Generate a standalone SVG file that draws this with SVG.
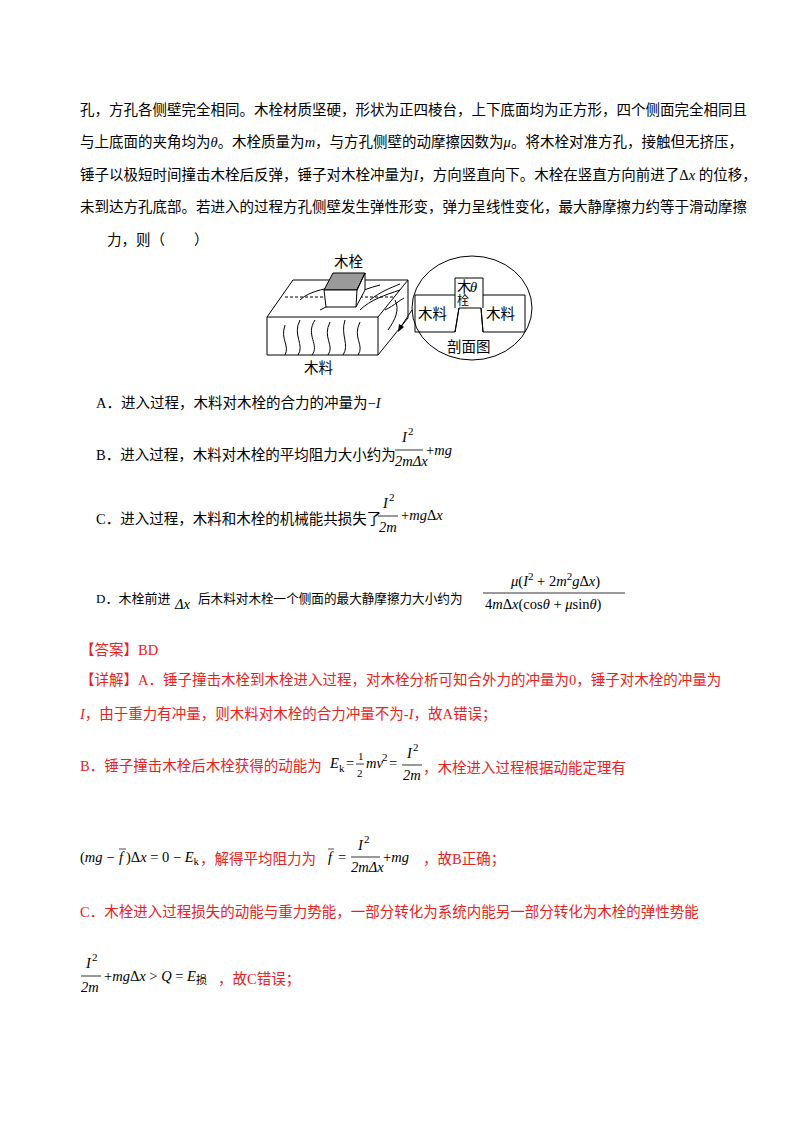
<svg xmlns="http://www.w3.org/2000/svg" width="800" height="1132" viewBox="0 0 800 1132">
<style>
text{font-family:"Liberation Serif","Noto Sans CJK SC",serif;font-size:14.5px;fill:#000}
.r{fill:#e8231e}
.i{font-style:italic}
.s{font-size:11px}
.ln{fill:none;stroke:#000;stroke-width:1}
</style>
<rect width="800" height="1132" fill="#fff"/>
<text x="80" y="115">孔，方孔各侧壁完全相同。木栓材质坚硬，形状为正四棱台，上下底面均为正方形，四个侧面完全相同且</text>
<text x="80" y="147">与上底面的夹角均为<tspan class="i">θ</tspan>。木栓质量为<tspan class="i">m</tspan>，与方孔侧壁的动摩擦因数为<tspan class="i">μ</tspan>。将木栓对准方孔，接触但无挤压，</text>
<text x="80" y="180">锤子以极短时间撞击木栓后反弹，锤子对木栓冲量为<tspan class="i">I</tspan>，方向竖直向下。木栓在竖直方向前进了Δ<tspan class="i">x</tspan> 的位移，</text>
<text x="80" y="212">未到达方孔底部。若进入的过程方孔侧壁发生弹性形变，弹力呈线性变化，最大静摩擦力约等于滑动摩擦</text>
<text x="107" y="245">力，则（　　）</text>
<g id="figure">
<path class="ln" d="M267 317H378V355H267Z M267 317L293 280H408L378 317 M408 280V318L378 355"/>
<path class="ln" d="M285 297H395" stroke-dasharray="3 2"/>
<path class="ln" d="M285 325C280 340 290 345 285 355 M300 320C292 335 305 345 298 355 M315 320C305 335 320 345 312 355 M330 322C322 338 335 345 328 355 M345 320C340 335 350 345 343 355 M360 322C352 338 365 345 358 355 M300 300C310 290 330 288 345 285 M320 310C340 300 360 290 380 285 M360 310C370 300 385 295 400 290 M385 310C395 305 400 300 404 298 M388 330C395 320 400 310 395 300 M370 300C380 292 390 288 400 284"/>
<path d="M324 290L333 273H365L357 290Z" fill="#9a9a9a" stroke="#000"/>
<path d="M324 290H357L365 273V290L356 307H326Z" fill="#fff" stroke="#000"/>
<path class="ln" d="M357 290L356 307 M357 290L365 273"/>
<text x="334" y="267">木栓</text>
<text x="304" y="373">木料</text>
<ellipse cx="472" cy="308" rx="60" ry="52" class="ln"/>
<path class="ln" d="M415 295H455V278H483V295H525V332H483L481 308H459L455 332H415Z M459 308L455 332 M481 308L483 332 M455 295V308 M483 295V308"/>
<text x="418" y="319">木料</text>
<text x="486" y="319">木料</text>
<text x="457" y="292">木</text>
<text x="457" y="305" style="font-size:12px">栓</text>
<text x="470" y="292" class="i">θ</text>
<text x="447" y="352">剖面图</text>
<path class="ln" d="M412 310L400 328"/>
<path d="M398 332L399 324L404 327Z" fill="#000"/>
</g>
<text x="96" y="408">A．进入过程，木料对木栓的合力的冲量为−<tspan class="i">I</tspan></text>
<text x="96" y="460">B．进入过程，木料对木栓的平均阻力大小约为</text>
<g id="fB"><text x="402" y="442" class="i">I</text><text x="408" y="435" class="s">2</text><line x1="395" y1="450" x2="423" y2="450" stroke="#000" stroke-width="0.8"/><text x="395" y="466" class="i">2mΔx</text><text x="426" y="455">+<tspan class="i">mg</tspan></text></g>
<text x="96" y="524">C．进入过程，木料和木栓的机械能共损失了</text>
<g id="fC"><text x="383" y="508" class="i">I</text><text x="389" y="501" class="s">2</text><line x1="378" y1="516" x2="398" y2="516" stroke="#000" stroke-width="0.8"/><text x="379" y="532" class="i">2m</text><text x="401" y="520">+<tspan class="i">mg</tspan>Δ<tspan class="i">x</tspan></text></g>
<text x="96" y="603" style="font-size:13px">D．木栓前进</text><text x="175" y="609" class="i">Δx</text><text x="198" y="603" style="font-size:12.6px">后木料对木栓一个侧面的最大静摩擦力大小约为</text>
<g id="fD"><text x="511" y="586"><tspan class="i">μ</tspan>(<tspan class="i">I</tspan><tspan class="s" dy="-6">2</tspan><tspan dy="6"> + 2</tspan><tspan class="i">m</tspan><tspan class="s" dy="-6">2</tspan><tspan dy="6" class="i">g</tspan>Δ<tspan class="i">x</tspan>)</text><line x1="483" y1="593" x2="625" y2="593" stroke="#000" stroke-width="0.8"/><text x="485" y="609">4<tspan class="i">m</tspan>Δ<tspan class="i">x</tspan>(cos<tspan class="i">θ</tspan> + <tspan class="i">μ</tspan>sin<tspan class="i">θ</tspan>)</text></g>
<text x="80" y="655" class="r">【答案】BD</text>
<text x="80" y="685" class="r">【详解】A．锤子撞击木栓到木栓进入过程，对木栓分析可知合外力的冲量为0，锤子对木栓的冲量为</text>
<text x="80" y="719" class="r"><tspan class="i">I</tspan>，由于重力有冲量，则木料对木栓的合力冲量不为-<tspan class="i">I</tspan>，故A错误；</text>
<text x="80" y="771" class="r">B．锤子撞击木栓后木栓获得的动能为</text>
<g id="fEk"><text x="330" y="768" class="i">E</text><text x="339" y="772" class="s">k</text><text x="346" y="768">=</text><text x="358" y="760" class="s">1</text><line x1="356" y1="764" x2="364" y2="764" stroke="#000" stroke-width="0.8"/><text x="357" y="777" class="s">2</text><text x="366" y="768" class="i">mv</text><text x="382" y="761" class="s">2</text><text x="389" y="768">=</text><text x="407" y="758" class="i">I</text><text x="413" y="751" class="s">2</text><line x1="402" y1="765" x2="422" y2="765" stroke="#000" stroke-width="0.8"/><text x="403" y="780" class="i">2m</text></g>
<text x="423" y="773" class="r">，木栓进入过程根据动能定理有</text>
<g id="fB2"><text x="80" y="862">(<tspan class="i">mg</tspan> −</text><text x="119" y="862" class="i">f</text><line x1="119" y1="849" x2="126" y2="849" stroke="#000" stroke-width="0.7"/><text x="126" y="862">)Δ<tspan class="i">x</tspan> = 0 − <tspan class="i">E</tspan><tspan class="s" dy="3">k</tspan></text></g>
<text x="200" y="864" class="r">，解得平均阻力为</text>
<g id="fB3"><text x="328" y="862" class="i">f</text><line x1="328" y1="849" x2="334" y2="849" stroke="#000" stroke-width="0.7"/><text x="338" y="862">=</text><text x="358" y="850" class="i">I</text><text x="364" y="843" class="s">2</text><line x1="351" y1="857" x2="380" y2="857" stroke="#000" stroke-width="0.8"/><text x="351" y="872" class="i">2mΔx</text><text x="383" y="862">+<tspan class="i">mg</tspan></text></g>
<text x="423" y="864" class="r">，故B正确；</text>
<text x="80" y="917" class="r">C．木栓进入过程损失的动能与重力势能，一部分转化为系统内能另一部分转化为木栓的弹性势能</text>
<g id="fC2"><text x="86" y="968" class="i">I</text><text x="92" y="961" class="s">2</text><line x1="81" y1="976" x2="101" y2="976" stroke="#000" stroke-width="0.8"/><text x="81" y="992" class="i">2m</text><text x="104" y="981">+<tspan class="i">mg</tspan>Δ<tspan class="i">x</tspan> &gt; <tspan class="i">Q</tspan> = <tspan class="i">E</tspan><tspan class="s" dy="3">损</tspan></text></g>
<text x="218" y="984" class="r">，故C错误；</text>
</svg>
